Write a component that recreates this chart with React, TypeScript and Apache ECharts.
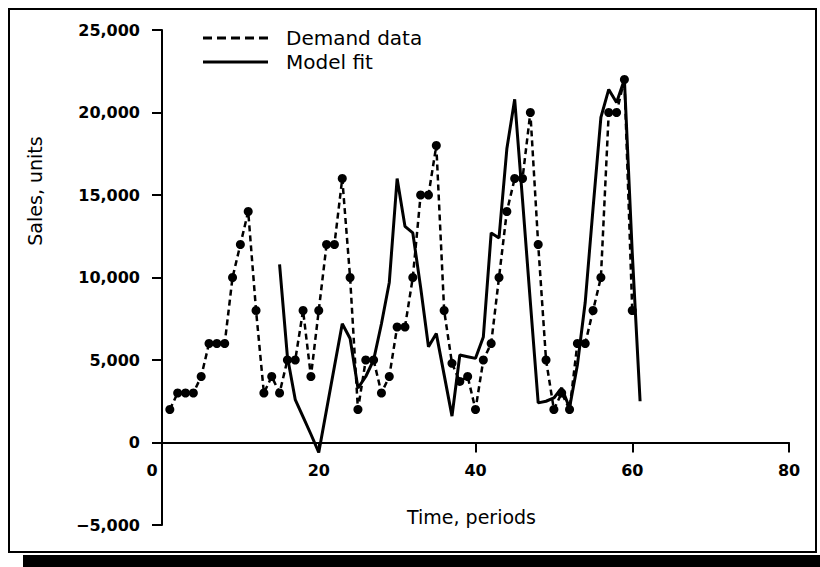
import React, { useEffect, useRef } from "react";
import * as echarts from "echarts";

// ---- data ----
const demandPeriods = [
  1, 2, 3, 4, 5, 6, 7, 8, 9, 10, 11, 12, 13, 14, 15, 16, 17, 18, 19, 20,
  21, 22, 23, 24, 25, 26, 27, 28, 29, 30, 31, 32, 33, 34, 35, 36, 37, 38, 39, 40,
  41, 42, 43, 44, 45, 46, 47, 48, 49, 50, 51, 52, 53, 54, 55, 56, 57, 58, 59, 60,
];
const demandValues = [
  2000, 3000, 3000, 3000, 4000, 6000, 6000, 6000, 10000, 12000,
  14000, 8000, 3000, 4000, 3000, 5000, 5000, 8000, 4000, 8000,
  12000, 12000, 16000, 10000, 2000, 5000, 5000, 3000, 4000, 7000,
  7000, 10000, 15000, 15000, 18000, 8000, 4800, 3700, 4000, 2000,
  5000, 6000, 10000, 14000, 16000, 16000, 20000, 12000, 5000, 2000,
  3000, 2000, 6000, 6000, 8000, 10000, 20000, 20000, 22000, 8000,
];
const modelPeriods = [
  15, 16, 17, 18, 19, 20, 21, 22, 23, 24, 25, 26, 27, 28, 29, 30,
  31, 32, 33, 34, 35, 36, 37, 38, 39, 40, 41, 42, 43, 44, 45, 46,
  47, 48, 49, 50, 51, 52, 53, 54, 55, 56, 57, 58, 59, 60, 61,
];
const modelValues = [
  10800, 5200, 2600, 1550, 500, -600, 2000, 4600, 7200, 6300, 3300, 4000, 5000, 7200, 9700, 16000,
  13100, 12700, 9400, 5800, 6600, 4100, 1600, 5300, 5200, 5100, 6400, 12700, 12400, 17800, 20800, 14700,
  8500, 2400, 2500, 2700, 3300, 2100, 4700, 8500, 14200, 19700, 21400, 20600, 22000, 11500, 2500,
];
const xTicks = [0, 20, 40, 60, 80];
const yTicks = [-5000, 0, 5000, 10000, 15000, 20000, 25000];
const seriesNames = ["Demand data", "Model fit"];
const xAxisTitle = "Time, periods";
const yAxisTitle = "Sales, units";

const FONT = "'DejaVu Sans', 'Liberation Sans', sans-serif";

const GRID_TOP = 30;
const GRID_BOTTOM = 42;
const CHART_H = 567;

function fmtY(v: number): string {
  const s = Math.abs(v).toLocaleString("en-US");
  return v < 0 ? "\u2212" + s : s;
}

export default function App() {
  const ref = useRef<HTMLDivElement>(null);

  useEffect(() => {
    document.body.style.margin = "0";
    if (!ref.current) return;
    const chart = echarts.init(ref.current, null, { renderer: "svg" });
    const demandData = demandPeriods.map((t, i) => [t, demandValues[i]]);
    const modelData = modelPeriods.map((t, i) => [t, modelValues[i]]);

    const yMin = yTicks[0];
    const yMax = yTicks[yTicks.length - 1];
    const plotH = CHART_H - GRID_TOP - GRID_BOTTOM;
    // distance from the grid bottom up to the zero line (the x axis sits on y = 0)
    const zeroOffset = (plotH * (0 - yMin)) / (yMax - yMin);

    const labelStyle = {
      color: "#000",
      fontFamily: FONT,
      fontSize: 16,
      fontWeight: "bold" as const,
    };

    chart.setOption({
      animation: false,
      backgroundColor: "#ffffff",
      grid: {
        left: 162,
        right: 31,
        top: GRID_TOP,
        bottom: GRID_BOTTOM,
        containLabel: false,
        outerBoundsMode: "none",
      },
      legend: {
        orient: "vertical",
        left: 203,
        top: 28,
        padding: 0,
        itemGap: 4,
        itemWidth: 65,
        itemHeight: 3,
        selectedMode: false,
        textStyle: {
          color: "#000",
          fontFamily: FONT,
          fontSize: 20,
          padding: [0, 0, 0, 13],
        },
        data: [
          {
            name: seriesNames[0],
            icon: "path://M0,0h9v3h-9z M14,0h9v3h-9z M28,0h9v3h-9z M42,0h9v3h-9z M56,0h9v3h-9z",
          },
          { name: seriesNames[1], icon: "path://M0,0h65v3h-65z" },
        ],
      },
      xAxis: {
        type: "value",
        position: "bottom",
        offset: -zeroOffset,
        min: xTicks[0],
        max: xTicks[xTicks.length - 1],
        interval: xTicks[1] - xTicks[0],
        axisLine: { show: true, onZero: false, lineStyle: { color: "#000", width: 2 } },
        axisTick: { show: true, inside: false, length: 10, lineStyle: { color: "#000", width: 2 } },
        axisLabel: {
          ...labelStyle,
          margin: 20,
          formatter: (v: number) => (v === 0 ? "{z|0}" : String(v)),
          rich: { z: { ...labelStyle, padding: [0, 20, 0, 0] } },
        },
        splitLine: { show: false },
        name: xAxisTitle,
        nameLocation: "middle",
        nameGap: 65,
        nameTextStyle: { color: "#000", fontFamily: FONT, fontSize: 19, padding: [0, 8, 0, 0] },
      },
      yAxis: {
        type: "value",
        min: yMin,
        max: yMax,
        interval: yTicks[1] - yTicks[0],
        axisLine: { show: true, onZero: false, lineStyle: { color: "#000", width: 2 } },
        axisTick: { show: true, inside: false, length: 10, lineStyle: { color: "#000", width: 2 } },
        axisLabel: { ...labelStyle, margin: 22, formatter: (v: number) => fmtY(v) },
        splitLine: { show: false },
      },
      graphic: [
        {
          type: "rect",
          shape: { x: 9, y: 9, width: 807, height: 543 },
          style: { fill: "none", stroke: "#000", lineWidth: 2 },
          silent: true,
        },
        {
          type: "rect",
          shape: { x: 23, y: 555, width: 797, height: 12 },
          style: { fill: "#000" },
          silent: true,
        },
        {
          type: "text",
          x: 35,
          y: 191,
          rotation: Math.PI / 2,
          style: {
            text: yAxisTitle,
            fill: "#000",
            fontFamily: FONT,
            fontSize: 19,
            align: "center",
            verticalAlign: "middle",
            textAlign: "center",
            textVerticalAlign: "middle",
          },
          silent: true,
        },
      ],
      series: [
        {
          name: seriesNames[0],
          type: "line",
          data: demandData,
          symbol: "circle",
          symbolSize: 9,
          showSymbol: true,
          lineStyle: { color: "#000", width: 2.5, type: [6, 4] },
          itemStyle: { color: "#000" },
          z: 3,
        },
        {
          name: seriesNames[1],
          type: "line",
          data: modelData,
          symbol: "none",
          showSymbol: false,
          lineStyle: { color: "#000", width: 3 },
          itemStyle: { color: "#000" },
          z: 2,
        },
      ],
    });

    return () => chart.dispose();
  }, []);

  return (
    <div
      ref={ref}
      style={{ width: 820, height: CHART_H, position: "absolute", left: 0, top: 0 }}
    />
  );
}
